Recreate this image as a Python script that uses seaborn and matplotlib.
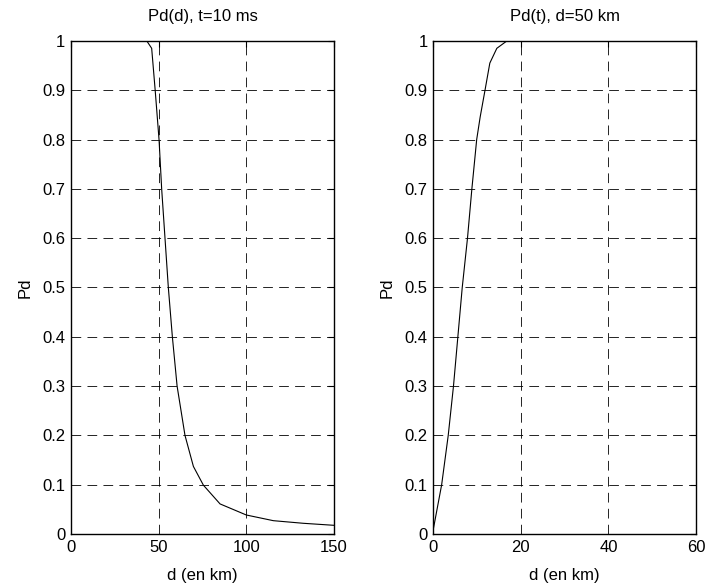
import matplotlib
matplotlib.use("Agg")
import matplotlib.pyplot as plt
import seaborn as sns
import pandas as pd

# Left panel: Pd as function of distance d (t = 10 ms)
d_km = [0, 43.2, 46.0, 48.0, 50.2, 51.7, 53.6, 55.5, 57.8, 60.5, 65.0, 69.8, 75.5, 85.0, 100.0, 115.4, 132.5, 150.0]
pd_d = [1.0, 1.0, 0.985, 0.9, 0.8, 0.7, 0.6, 0.5, 0.4, 0.3, 0.2, 0.137, 0.099, 0.061, 0.0385, 0.027, 0.0217, 0.0176]

# Right panel: Pd as function of time t (d = 50 km)
t_ms = [0, 1.9, 3.4, 4.6, 5.6, 6.6, 7.8, 8.8, 9.9, 10.7, 11.8, 12.9, 14.5, 16.8, 60.0]
pd_t = [0.01, 0.1, 0.2, 0.3, 0.4, 0.5, 0.6, 0.7, 0.8, 0.846, 0.9, 0.955, 0.985, 1.0, 1.0]

titles = ["Pd(d), t=10 ms", "Pd(t), d=50 km"]
xlabel = "d (en km)"
ylabel = "Pd"
yticks = [0, 0.1, 0.2, 0.3, 0.4, 0.5, 0.6, 0.7, 0.8, 0.9, 1]
ytick_labels = ["0", "0.1", "0.2", "0.3", "0.4", "0.5", "0.6", "0.7", "0.8", "0.9", "1"]
xticks_left = [0, 50, 100, 150]
xticks_right = [0, 20, 40, 60]

sns.set_style("white")
plt.rcParams["font.family"] = ["Liberation Sans", "DejaVu Sans"]
plt.rcParams["lines.scale_dashes"] = False
plt.rcParams["text.color"] = "black"
plt.rcParams["axes.labelcolor"] = "black"

fig = plt.figure(figsize=(7.06, 5.87), dpi=100)
ax1 = fig.add_axes([0.1006, 0.0903, 0.3725, 0.840])
ax2 = fig.add_axes([0.6138, 0.0903, 0.3721, 0.840])

df1 = pd.DataFrame({"x": d_km, "y": pd_d})
df2 = pd.DataFrame({"x": t_ms, "y": pd_t})

for ax, df, title, xt in [(ax1, df1, titles[0], xticks_left), (ax2, df2, titles[1], xticks_right)]:
    sns.lineplot(data=df, x="x", y="y", ax=ax, color="black", linewidth=0.8, zorder=3)
    ax.set_xlim(xt[0], xt[-1])
    ax.set_ylim(0, 1)
    ax.set_xticks(xt)
    ax.set_xticklabels([str(v) for v in xt])
    ax.set_yticks(yticks)
    ax.set_yticklabels(ytick_labels)
    ax.grid(True, color="black", linestyle=(0, (7, 4.5)), linewidth=0.6)
    ax.set_axisbelow(True)
    ax.tick_params(direction="in", length=4, width=0.8, top=True, right=True,
                   labelsize=12, pad=4, colors="black")
    for s in ax.spines.values():
        s.set_visible(True)
        s.set_color("black")
        s.set_linewidth(1.0)
    ax.set_title(title, fontsize=12, pad=14, color="black")
    ax.set_xlabel(xlabel, fontsize=12, labelpad=10, color="black")
    ax.set_ylabel(ylabel, fontsize=12, labelpad=7, color="black")

fig.savefig("out.png", dpi=100, facecolor="white")
